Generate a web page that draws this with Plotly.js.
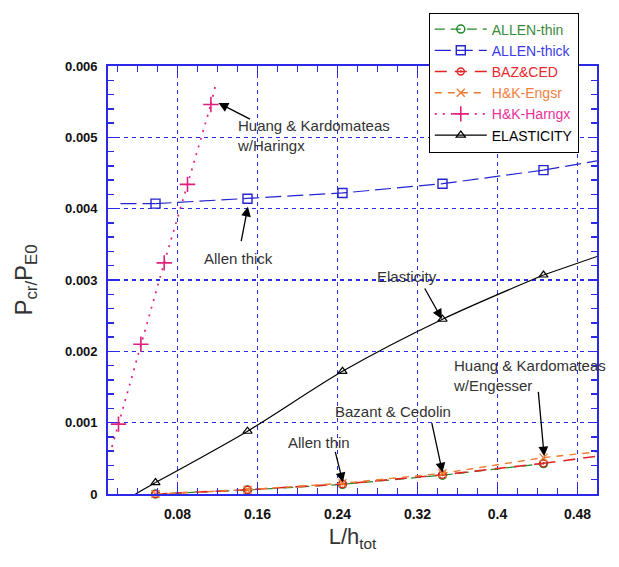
<!DOCTYPE html>
<html>
<head>
<meta charset="utf-8">
<script src="https://cdn.plot.ly/plotly-3.0.1.min.js"></script>
<style>html,body{margin:0;padding:0;background:#fff;}#chart{width:619px;height:567px;}</style>
</head>
<body>
<div id="chart"></div>
<script>
// ---- data ----
const markX = [0.058, 0.15, 0.245, 0.345, 0.446];

const allenThinY  = [0.0, 0.000056, 0.000135, 0.000264, 0.000426];
const bazY        = [0.0, 0.00006, 0.00014, 0.00027, 0.00043];
const engsrY      = [0.0, 0.00006, 0.00015, 0.00029, 0.00051];
const allenThickY = [0.00407, 0.00414, 0.00422, 0.00435, 0.00454];
const elastY      = [0.00016, 0.00088, 0.00172, 0.00245, 0.00307];

const harngxX = [0.021, 0.0434, 0.0667, 0.090, 0.1134];
const harngxY = [0.00098, 0.0021, 0.00324, 0.00434, 0.00546];

// line parts beyond the plotted markers
const allenThickLeftX = [0.023, 0.058],  allenThickLeftY = [0.00407, 0.00407];
const allenThickRightX = [0.446, 0.4995], allenThickRightY = [0.00454, 0.00467];
const elastLeftX = [0.038, 0.058],  elastLeftY = [0.0, 0.00016];
const elastRightX = [0.446, 0.4995], elastRightY = [0.00307, 0.00333];
const harngxLowX = [0.0144, 0.021], harngxLowY = [0.00066, 0.00098];
const harngxTopX = [0.1134, 0.1187], harngxTopY = [0.00546, 0.00577];
const bazRightX = [0.446, 0.4995], bazRightY = [0.00043, 0.00053];
const engsrRightX = [0.446, 0.4995], engsrRightY = [0.00051, 0.00059];

const xTickVals = [0.08, 0.16, 0.24, 0.32, 0.4, 0.48];
const xTickText = ['0.08', '0.16', '0.24', '0.32', '0.4', '0.48'];
const yTickVals = [0, 0.001, 0.002, 0.003, 0.004, 0.005, 0.006];
const yTickText = ['0', '0.001', '0.002', '0.003', '0.004', '0.005', '0.006'];

// ---- styles ----
const C = {
  thin: '#1f8a2a', thick: '#2424d0', baz: '#e02424', engsr: '#f07a30',
  harn: '#e0207e', elast: '#000000', grid: '#2a2ae8'
};

function ext(x, y, color, dash, width) {
  return {x: x, y: y, mode: 'lines', showlegend: false, hoverinfo: 'skip',
          line: {color: color, dash: dash, width: width || 1.2}};
}

const traces = [
  ext(allenThickLeftX, allenThickLeftY, C.thick, '16px,6px'),
  ext(allenThickRightX, allenThickRightY, C.thick, '16px,6px'),
  ext(elastLeftX, elastLeftY, C.elast, 'solid'),
  ext(elastRightX, elastRightY, C.elast, 'solid'),
  ext(harngxLowX, harngxLowY, C.harn, '2px,6px', 1.7),
  ext(harngxTopX, harngxTopY, C.harn, '2px,6px', 1.7),
  ext(bazRightX, bazRightY, C.baz, '12px,8px', 1.6),
  ext(engsrRightX, engsrRightY, C.engsr, '7px,6px', 1.4),
  {
    name: '<span style="color:#3a8a3a">ALLEN-thin</span>',
    x: markX, y: allenThinY, mode: 'lines+markers', cliponaxis: false,
    line: {color: C.thin, dash: '10px,6px', width: 1.2},
    marker: {symbol: 'circle-open', size: 8, color: C.thin, line: {width: 1.5}}
  },
  {
    name: '<span style="color:#3c3ce6">ALLEN-thick</span>',
    x: markX, y: allenThickY, mode: 'lines+markers', cliponaxis: false,
    line: {color: C.thick, dash: '16px,6px', width: 1.2},
    marker: {symbol: 'square-open', size: 9, color: C.thick, line: {width: 1.4}}
  },
  {
    name: '<span style="color:#e8282c">BAZ&amp;CED</span>',
    x: markX, y: bazY, mode: 'lines+markers', cliponaxis: false,
    line: {color: C.baz, dash: '12px,8px', width: 1.6},
    marker: {symbol: 'circle-open-dot', size: 7, color: C.baz, line: {width: 1.4}}
  },
  {
    name: '<span style="color:#f08040">H&amp;K-Engsr</span>',
    x: markX, y: engsrY, mode: 'lines+markers', cliponaxis: false,
    line: {color: C.engsr, dash: '7px,6px', width: 1.4},
    marker: {symbol: 'x-thin-open', size: 8, color: C.engsr, line: {width: 1.4, color: C.engsr}}
  },
  {
    name: '<span style="color:#e8309a">H&amp;K-Harngx</span>',
    x: harngxX, y: harngxY, mode: 'lines+markers', cliponaxis: false,
    line: {color: C.harn, dash: '2px,6px', width: 1.7},
    marker: {symbol: 'cross-thin-open', size: 11, color: C.harn, line: {width: 1.6, color: C.harn}}
  },
  {
    name: 'ELASTICITY',
    x: markX, y: elastY, mode: 'lines+markers', cliponaxis: false,
    line: {color: C.elast, width: 1.2, shape: 'spline', smoothing: 0.8},
    marker: {symbol: 'triangle-up-open', size: 8, color: C.elast, line: {width: 1.2}}
  }
];

const annFont = {family: 'Liberation Sans, Arial, sans-serif', size: 15, color: '#333333'};
function arrow(x, y, ax, ay) {
  return {x: x, y: y, xref: 'x', yref: 'y', ax: ax, ay: ay, text: '', showarrow: true,
          arrowhead: 2, arrowsize: 1.5, arrowwidth: 1.3, arrowcolor: '#000', standoff: 0};
}
function label(x, y, text) {
  return {x: x, y: y, xref: 'x', yref: 'y', text: text, showarrow: false,
          xanchor: 'left', yanchor: 'top', align: 'left', font: annFont};
}

const annotations = [
  arrow(0.121, 0.005482, 33, 17),
  arrow(0.1504, 0.004028, -7, 36),
  arrow(0.3444, 0.002454, -18, -32),
  arrow(0.4467, 0.000528, -6, -66),
  arrow(0.345, 0.000301, -11, -51),
  arrow(0.2454, 0.000163, -8, -32),
  label(0.137, 0.00531, 'Huang &amp; Kardomateas<br>w/Haringx'),
  label(0.104, 0.00345, 'Allen thick'),
  label(0.277, 0.00320, 'Elasticity'),
  label(0.3537, 0.00195, 'Huang &amp; Kardomateas<br>w/Engesser'),
  label(0.2355, 0.00130, 'Bazant &amp; Cedolin'),
  label(0.188, 0.00087, 'Allen thin')
];

const tickFont = {family: 'Liberation Sans, Arial, sans-serif', size: 13, color: '#111', weight: 'bold'};

const layout = {
  width: 619, height: 567,
  margin: {l: 108, r: 22, t: 62, b: 73},
  paper_bgcolor: '#ffffff', plot_bgcolor: '#ffffff',
  showlegend: true,
  legend: {
    x: 0.656, xanchor: 'left', y: 1.125, yanchor: 'top',
    bgcolor: '#ffffff', bordercolor: '#000000', borderwidth: 1,
    font: {family: 'Liberation Sans, Arial, sans-serif', size: 14, color: '#000'},
    itemwidth: 52, tracegroupgap: 0
  },
  xaxis: {
    range: [0.0105, 0.4995], autorange: false,
    tickvals: xTickVals, ticktext: xTickText,
    ticks: 'inside', ticklen: 9, tickwidth: 1.5, tickcolor: C.grid,
    showline: true, linecolor: C.grid, linewidth: 1.8, mirror: 'ticks',
    showgrid: true, gridcolor: C.grid, griddash: '4px,4px', gridwidth: 1.8,
    zeroline: false,
    minor: {dtick: 0.02, tick0: 0, ticks: 'inside', ticklen: 6, tickwidth: 1.5, tickcolor: C.grid, showgrid: false},
    tickfont: {family: 'Liberation Sans, Arial, sans-serif', size: 14, color: '#111', weight: 'bold'},
    ticklabelstandoff: 6,
    title: {text: 'L/h<sub>tot</sub>', font: {family: 'Liberation Sans, Arial, sans-serif', size: 22, color: '#333'}, standoff: 8}
  },
  yaxis: {
    range: [0, 0.006], autorange: false,
    tickvals: yTickVals, ticktext: yTickText,
    ticks: 'inside', ticklen: 9, tickwidth: 1.5, tickcolor: C.grid,
    showline: true, linecolor: C.grid, linewidth: 1.8, mirror: 'ticks',
    showgrid: true, gridcolor: C.grid, griddash: '4px,4px', gridwidth: 1.5,
    zeroline: false,
    minor: {dtick: 0.0002, tick0: 0, ticks: 'inside', ticklen: 6, tickwidth: 1.5, tickcolor: C.grid, showgrid: false},
    tickfont: tickFont,
    ticklabelstandoff: 6,
    title: {text: 'P<sub>cr/</sub>P<sub>E0</sub>', font: {family: 'Liberation Sans, Arial, sans-serif', size: 24, color: '#333'}, standoff: 26}
  },
  annotations: annotations
};

Plotly.newPlot('chart', traces, layout, {staticPlot: true, displayModeBar: false});
</script>
</body>
</html>
